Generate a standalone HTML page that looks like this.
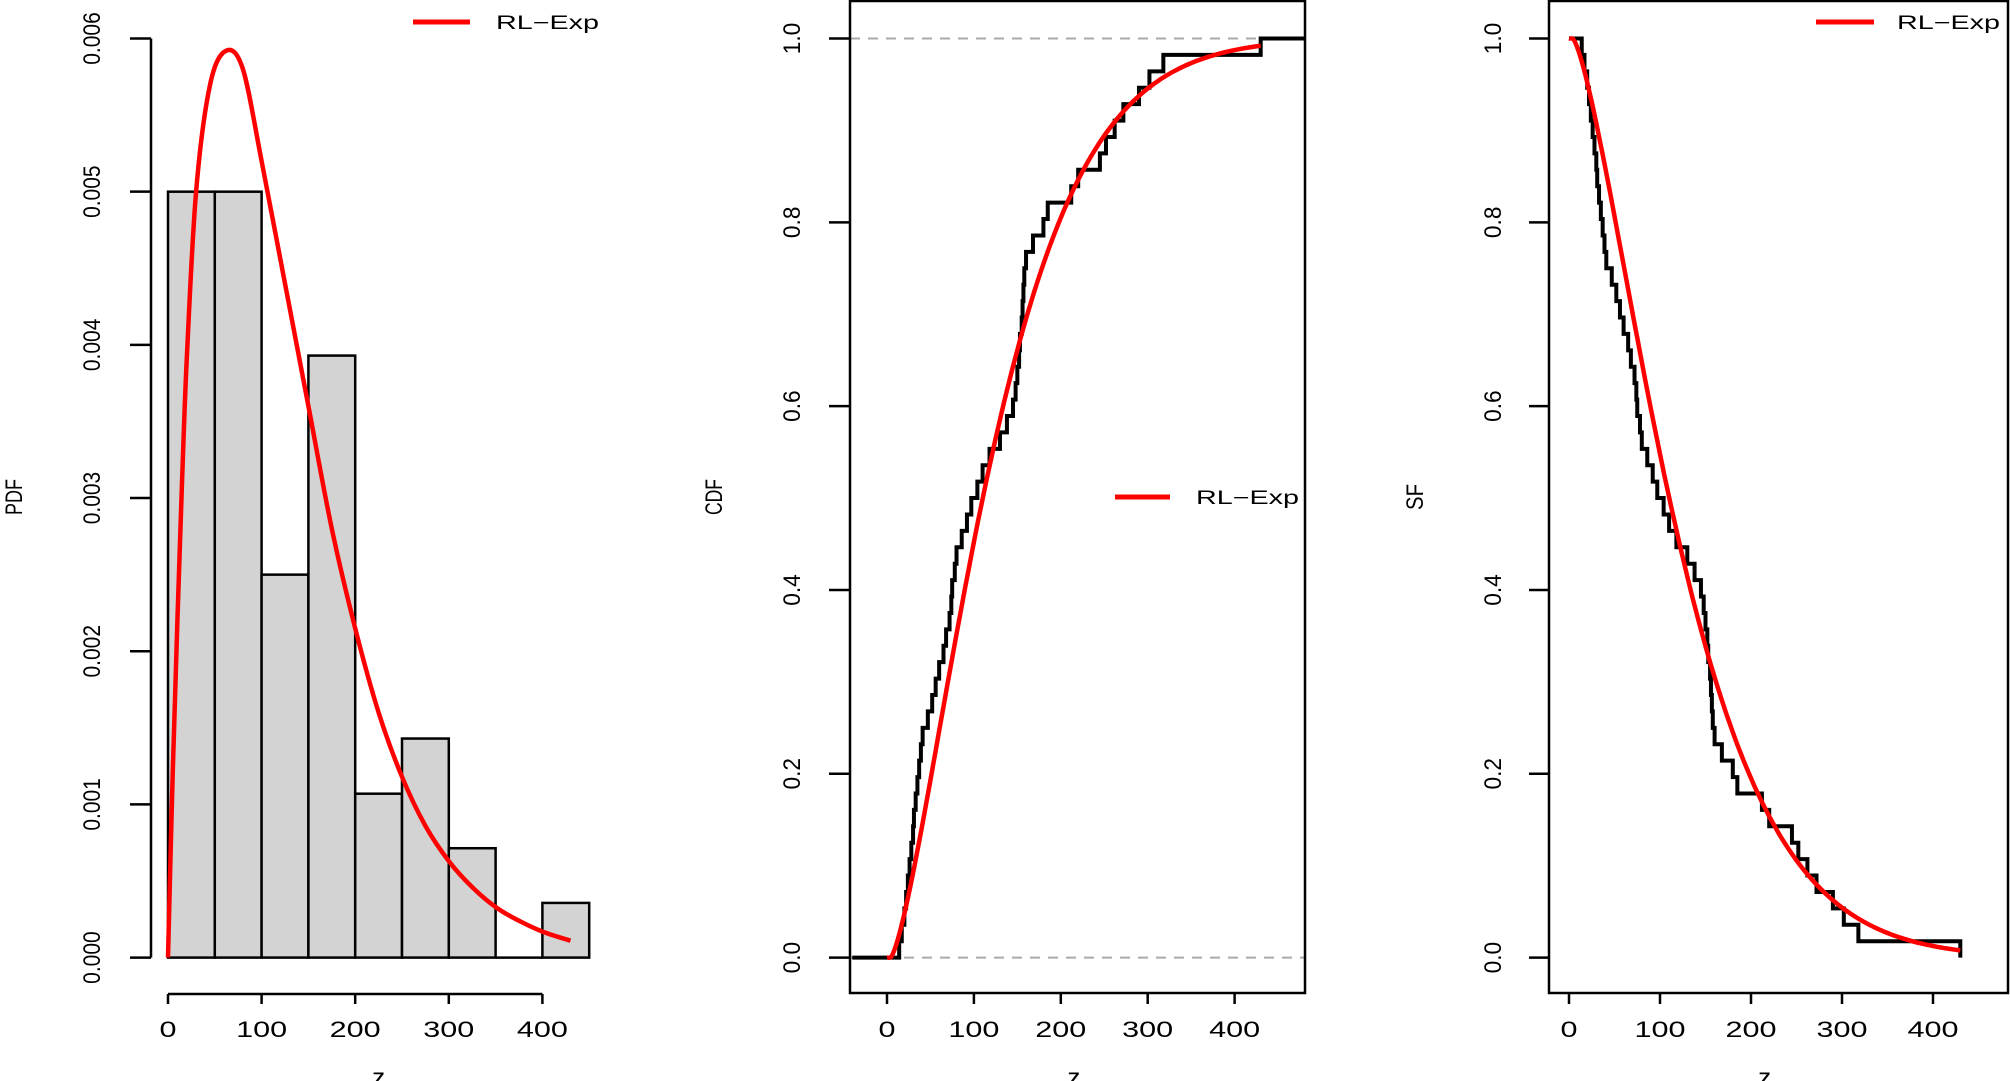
<!DOCTYPE html>
<html><head><meta charset="utf-8"><style>
html,body{margin:0;padding:0;background:#fff;width:2010px;height:1081px;overflow:hidden}
svg text{font-family:"Liberation Sans",sans-serif;fill:#000}
</style></head><body>
<svg id="s" width="2010" height="1081" xmlns="http://www.w3.org/2000/svg"></svg>
<script>
const S=document.getElementById('s');let h='';
const Y=p=>957.6-p*919.1;
function cr(pts){let d='M'+pts[0][0].toFixed(1)+','+pts[0][1].toFixed(1);
 for(let i=0;i<pts.length-1;i++){const p0=pts[Math.max(0,i-1)],p1=pts[i],p2=pts[i+1],p3=pts[Math.min(pts.length-1,i+2)];
 const c1=[p1[0]+(p2[0]-p0[0])/6,p1[1]+(p2[1]-p0[1])/6],c2=[p2[0]-(p3[0]-p1[0])/6,p2[1]-(p3[1]-p1[1])/6];
 d+=`C${c1[0].toFixed(1)},${c1[1].toFixed(1)} ${c2[0].toFixed(1)},${c2[1].toFixed(1)} ${p2[0].toFixed(1)},${p2[1].toFixed(1)}`;}return d;}
function xlab(x,t){h+=`<text x="${x}" y="1037" font-size="22" text-anchor="middle" textLength="${t.length*17}" lengthAdjust="spacingAndGlyphs">${t}</text>`;}
function ylab(x,y,t){h+=`<text transform="translate(${x},${y}) rotate(-90)" font-size="24" text-anchor="middle" textLength="${t.length*10.5}" lengthAdjust="spacingAndGlyphs">${t}</text>`;}
function ttl(x,t,len){h+=`<text transform="translate(${x},497) rotate(-90)" font-size="24" text-anchor="middle" textLength="${len}" lengthAdjust="spacingAndGlyphs">${t}</text>`;}
function legend(x1,x2,y,tx){h+=`<line x1="${x1}" y1="${y}" x2="${x2}" y2="${y}" stroke="#f00" stroke-width="5"/><text x="${tx}" y="${y+7}" font-size="19" textLength="103" lengthAdjust="spacingAndGlyphs">RL−Exp</text>`;}
// Panel 1
const X1=z=>168+z*0.936, V1=v=>957.6-v/0.006*919.1;
const bars=[.005,.005,.0025,.00393,.00107,.00143,.000714,0,.000357];
bars.forEach((b,i)=>{if(b>0)h+=`<rect x="${X1(i*50)}" y="${V1(b)}" width="${50*0.936}" height="${V1(0)-V1(b)}" fill="#d3d3d3" stroke="#000" stroke-width="2.5"/>`;});
h+=`<line x1="${X1(350)}" y1="${V1(0)}" x2="${X1(400)}" y2="${V1(0)}" stroke="#000" stroke-width="2.5"/>`;
const pdf=[[0,0],[5,.0012],[10,.0022],[15,.0031],[20,.0039],[30,.005],[45,.0057],[62,.00592],[80,.0058],[100,.0052],[125,.0044],[150,.0036],[175,.0028],[200,.00215],[225,.0016],[250,.00118],[275,.00086],[300,.00063],[325,.00046],[350,.00033],[375,.00024],[400,.00017],[430,.00011]];
h+=`<path d="${cr(pdf.map(p=>[X1(p[0]),V1(p[1])]))}" fill="none" stroke="#f00" stroke-width="4.5"/>`;
h+=`<line x1="151" y1="${V1(0)}" x2="151" y2="${V1(.006)}" stroke="#000" stroke-width="2.5"/>`;
for(let i=0;i<=6;i++){const y=V1(i*.001);h+=`<line x1="130" y1="${y}" x2="151" y2="${y}" stroke="#000" stroke-width="2.5"/>`;ylab(100,y,(i*.001).toFixed(3));}
h+=`<line x1="${X1(0)}" y1="994" x2="${X1(400)}" y2="994" stroke="#000" stroke-width="2.5"/>`;
for(let z=0;z<=400;z+=100){h+=`<line x1="${X1(z)}" y1="994" x2="${X1(z)}" y2="1004" stroke="#000" stroke-width="2.5"/>`;xlab(X1(z),''+z);}
ttl(22,'PDF',36);
h+=`<text x="${X1(225)}" y="1086" font-size="26" text-anchor="middle">z</text>`;
legend(413,470,22,496);
// data
const d=[14,17,20,22,24,26,28,30,31,33,35,37,39,41,47,52,56,60,65,68,72,74,75,78,80,86,92,97,104,110,118,130,138,145,148,150,152,153,155,156,157,158,160,168,180,185,212,220,245,252,262,272,290,302,318,430];
const n=d.length;
const F=z=>z<=4?0:1-Math.exp(-Math.pow((z-4)/138,1.4));
// Panel 2
const X2=z=>887+z*0.869;
h+=`<line x1="850" y1="${Y(0)}" x2="1305" y2="${Y(0)}" stroke="#aaa" stroke-width="2" stroke-dasharray="10,8"/><line x1="850" y1="${Y(1)}" x2="1305" y2="${Y(1)}" stroke="#aaa" stroke-width="2" stroke-dasharray="10,8"/>`;
let p=`M${X2(-40)},${Y(0)}`;d.forEach((z,i)=>{p+=` H${X2(z)} V${Y((i+1)/n)}`;});p+=` H1305`;
h+=`<path d="${p}" fill="none" stroke="#000" stroke-width="4"/>`;
let c=[];for(let z=0;z<=430;z+=5)c.push([X2(z),Y(F(z))]);
h+=`<path d="${cr(c)}" fill="none" stroke="#f00" stroke-width="4.5"/>`;
h+=`<rect x="850" y="1" width="455" height="992" fill="none" stroke="#000" stroke-width="2.5"/>`;
for(let i=0;i<=5;i++){const y=Y(i*.2);h+=`<line x1="829" y1="${y}" x2="850" y2="${y}" stroke="#000" stroke-width="2.5"/>`;ylab(800,y,(i*.2).toFixed(1));}
for(let z=0;z<=400;z+=100){h+=`<line x1="${X2(z)}" y1="993" x2="${X2(z)}" y2="1004" stroke="#000" stroke-width="2.5"/>`;xlab(X2(z),''+z);}
ttl(722,'CDF',36);
h+=`<text x="${X2(215)}" y="1086" font-size="26" text-anchor="middle">z</text>`;
legend(1115,1170,497,1196);
// Panel 3
const X3=z=>1569+z*0.91;
p=`M${X3(0)},${Y(1)}`;d.forEach((z,i)=>{p+=` H${X3(z)} V${Y(1-(i+1)/n)}`;});
h+=`<path d="${p}" fill="none" stroke="#000" stroke-width="4"/>`;
c=[];for(let z=0;z<=430;z+=5)c.push([X3(z),Y(1-F(z))]);
h+=`<path d="${cr(c)}" fill="none" stroke="#f00" stroke-width="4.5"/>`;
h+=`<rect x="1549" y="1" width="459" height="992" fill="none" stroke="#000" stroke-width="2.5"/>`;
for(let i=0;i<=5;i++){const y=Y(i*.2);h+=`<line x1="1529" y1="${y}" x2="1549" y2="${y}" stroke="#000" stroke-width="2.5"/>`;ylab(1501,y,(i*.2).toFixed(1));}
for(let z=0;z<=400;z+=100){h+=`<line x1="${X3(z)}" y1="993" x2="${X3(z)}" y2="1004" stroke="#000" stroke-width="2.5"/>`;xlab(X3(z),''+z);}
ttl(1423,'SF',26);
h+=`<text x="${X3(215)}" y="1086" font-size="26" text-anchor="middle">z</text>`;
legend(1816,1874,22,1897);
S.innerHTML=h;
</script>
</body></html>
